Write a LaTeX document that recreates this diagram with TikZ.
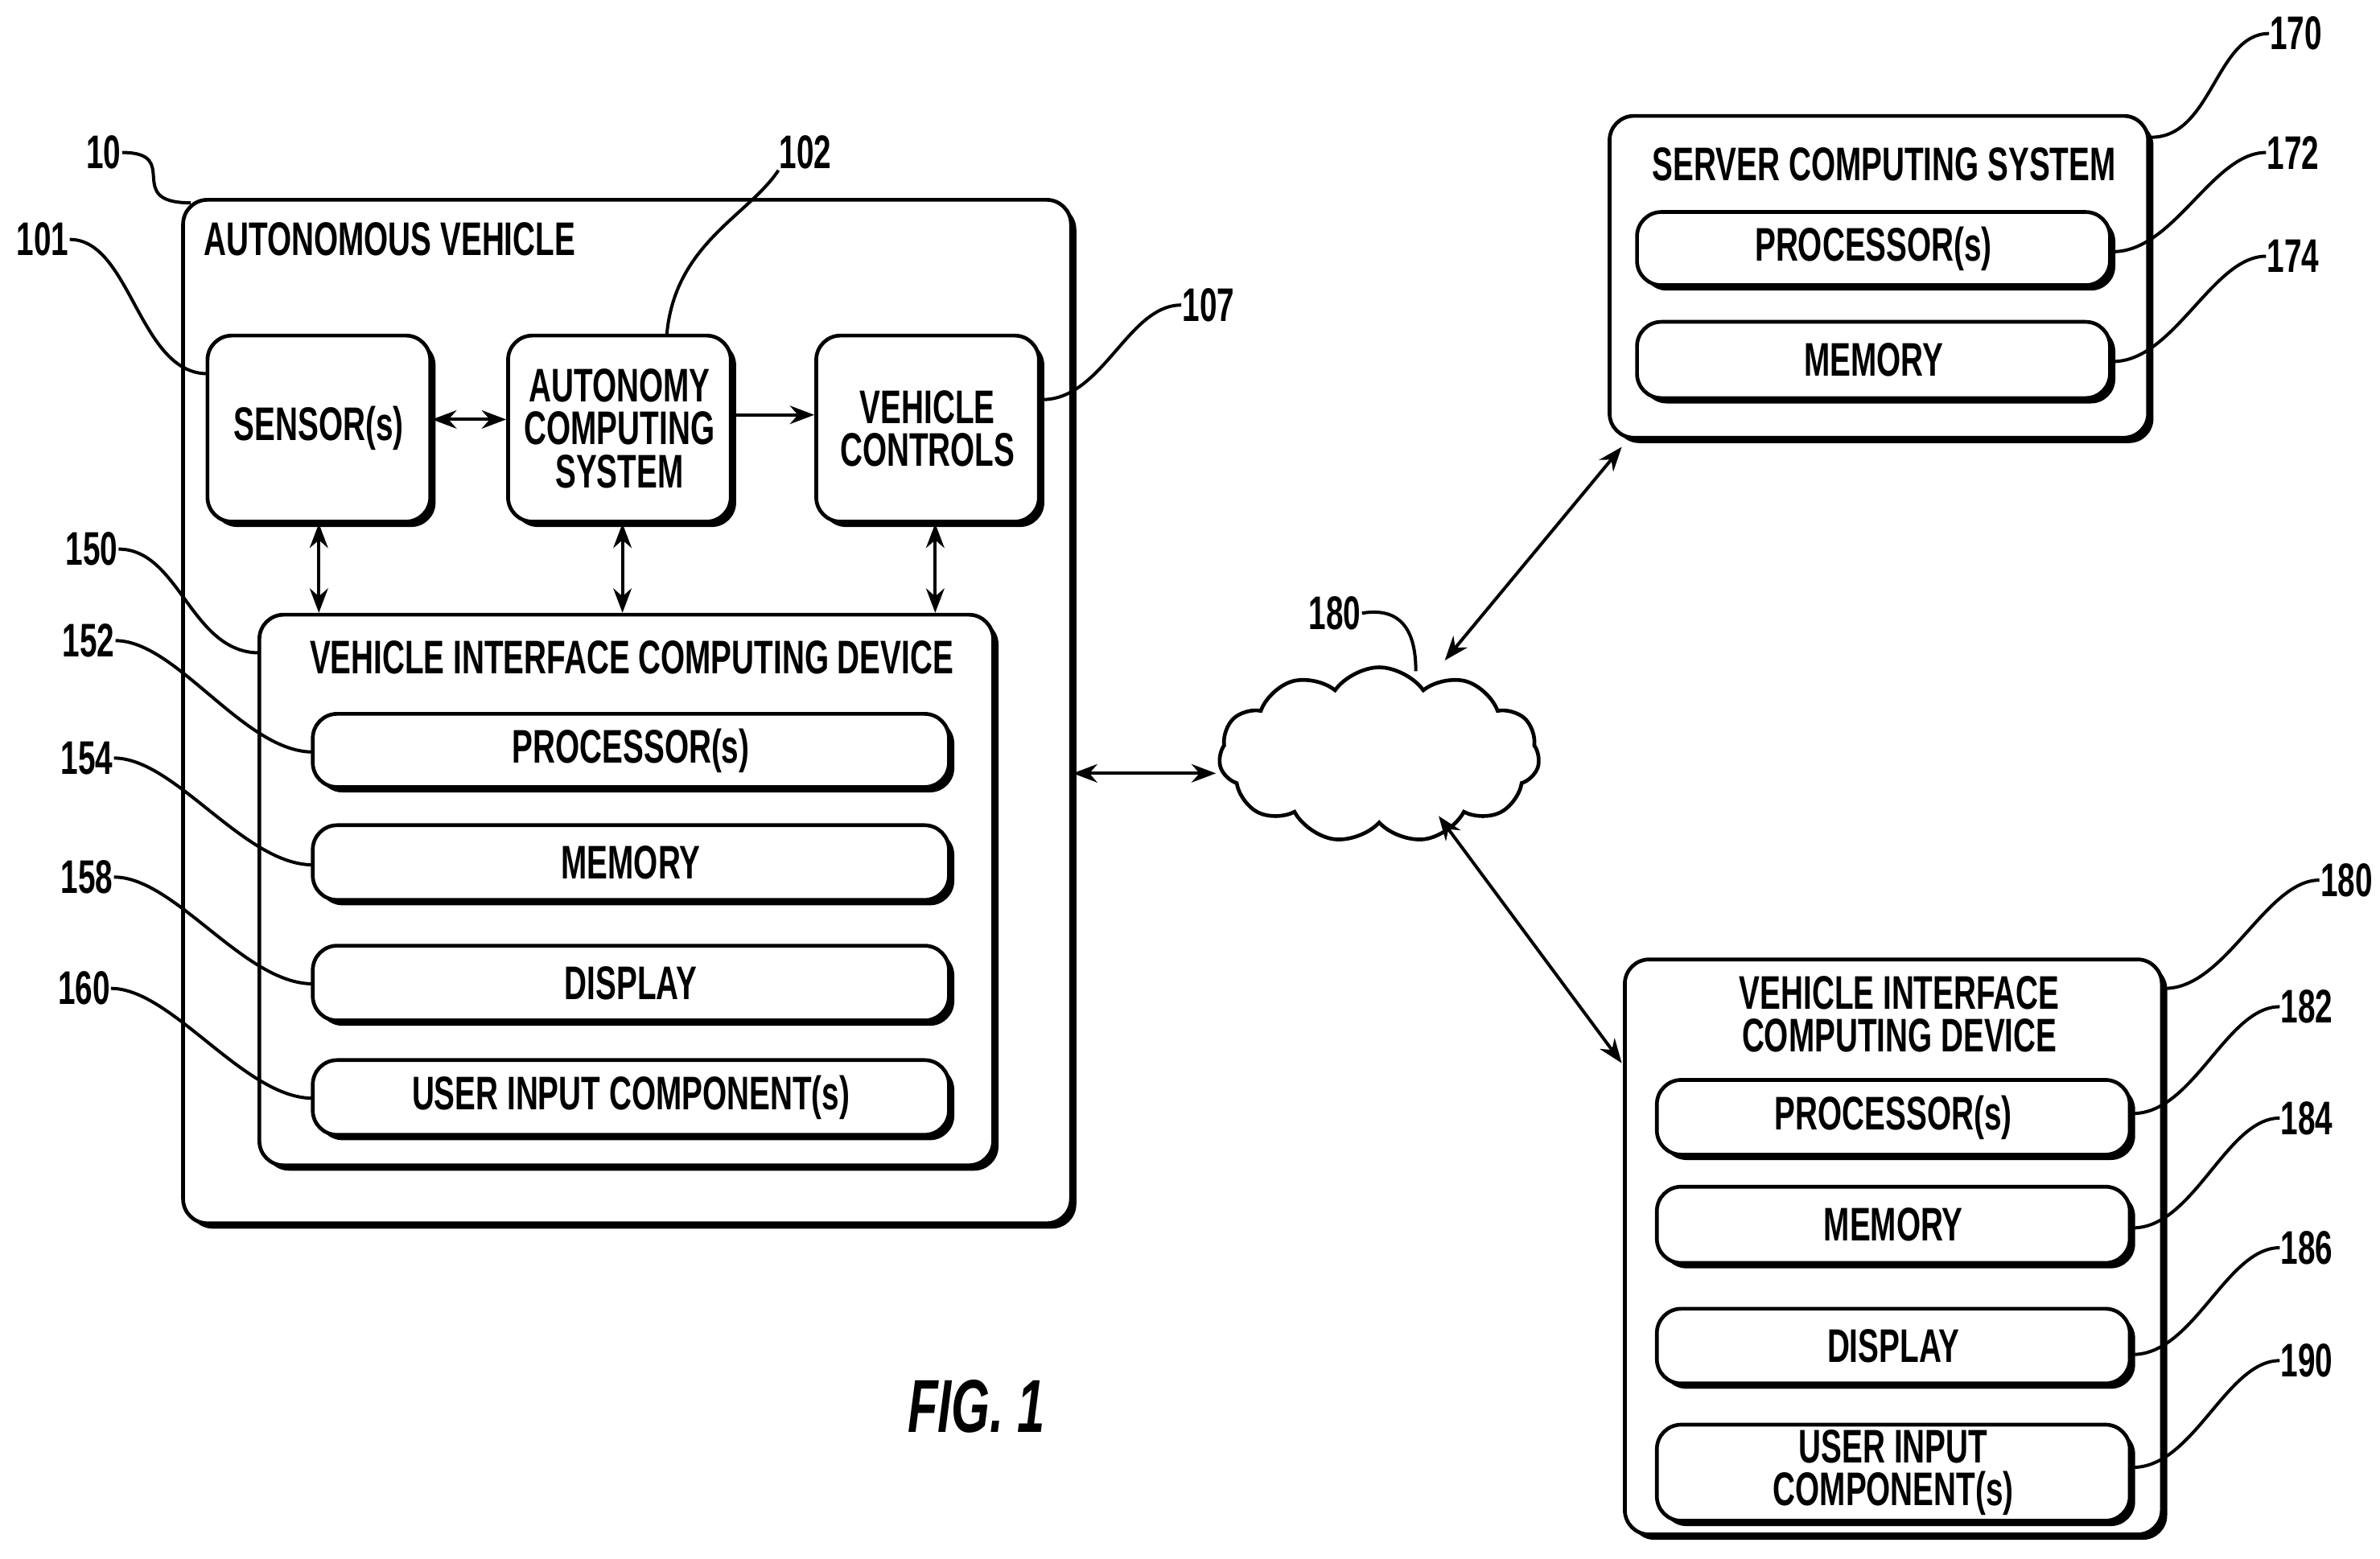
\documentclass[tikz,border=0pt]{standalone}
\usepackage{fontspec}
\setmainfont{Liberation Sans}[FakeStretch=0.66]
\usetikzlibrary{shadows,fit,shapes.symbols,arrows.meta,calc}
\begin{document}
\fontsize{8.8}{10}\selectfont\bfseries
\begin{tikzpicture}[x=0.1mm,y=-0.1mm,
 box/.style={draw,line width=0.7pt,fill=white,rounded corners=1.6mm,inner sep=0,align=center,
   drop shadow={shadow xshift=0.35mm,shadow yshift=-0.35mm,fill=black,opacity=1}},
 lbl/.style={inner sep=0},
 ld/.style={line width=0.6pt},
 ar/.style={line width=0.6pt,{Stealth[length=1.6mm,width=1.2mm]}-{Stealth[length=1.6mm,width=1.2mm]}},
 ar1/.style={line width=0.6pt,-{Stealth[length=1.6mm,width=1.2mm]}}]
\useasboundingbox (0,0) rectangle (1560,1022);
\newcommand{\bx}[6]{\node[box,fit={(#2,#3)(#4,#5)}] (#1) {}; \node[lbl,align=center] at (#1.center) {#6};}
% autonomous vehicle
\bx{av}{120}{131}{702}{802}{}
\node[lbl,anchor=west] (avt) at (133,157) {AUTONOMOUS VEHICLE};
\bx{sen}{136}{220}{282}{342}{SENSOR(s)}
\bx{aut}{333}{220}{479}{342}{AUTONOMY\\[-2pt]COMPUTING\\[-2pt]SYSTEM}
\bx{vc}{535}{220}{681}{342}{VEHICLE\\[-2pt]CONTROLS}
\bx{vicd}{170}{403}{651}{764}{}
\node[lbl] (vicdt) at (414,431) {VEHICLE INTERFACE COMPUTING DEVICE};
\bx{p1}{205}{468}{622}{516}{PROCESSOR(s)}
\bx{m1}{205}{541}{622}{590}{MEMORY}
\bx{d1}{205}{620}{622}{669}{DISPLAY}
\bx{u1}{205}{695}{622}{744}{USER INPUT COMPONENT(s)}
% server
\bx{srv}{1055}{76}{1408}{287}{}
\node[lbl] (srvt) at (1235,108) {SERVER COMPUTING SYSTEM};
\bx{p2}{1073}{139}{1383}{187}{PROCESSOR(s)}
\bx{m2}{1073}{211}{1383}{261}{MEMORY}
% right vicd
\bx{rv}{1065}{629}{1417}{1006}{}
\node[lbl,align=center] (rvt) at (1245,665) {VEHICLE INTERFACE\\[-2pt]COMPUTING DEVICE};
\bx{p3}{1086}{708}{1396}{757}{PROCESSOR(s)}
\bx{m3}{1086}{778}{1396}{828}{MEMORY}
\bx{d3}{1086}{858}{1396}{907}{DISPLAY}
\bx{u3}{1086}{934}{1396}{997}{USER INPUT\\[-2pt]COMPONENT(s)}
% cloud
\node[cloud,draw,line width=0.7pt,cloud puffs=11,cloud puff arc=110,minimum width=21mm,minimum height=11.5mm,aspect=1.8] (cl) at (904,495) {};
\node[lbl,font=\fontsize{14}{16}\selectfont\bfseries\itshape] (fig) at (640,922) {FIG. 1};
% coordinates
\coordinate (c1) at (288,275);
\draw[ar] (sen.east |- c1) -- (aut.west |- c1);
\draw[ar1] (aut.east |- 0,272) -- (vc.west |- 0,272);
\draw[ar] (sen.south -| 209,0) -- (vicd.north -| 209,0);
\draw[ar] (aut.south -| 408,0) -- (vicd.north -| 408,0);
\draw[ar] (vc.south -| 613,0) -- (vicd.north -| 613,0);
\coordinate (k1) at (797,507); \coordinate (k2) at (947,433); \coordinate (k3) at (943,535);
\coordinate (s1) at (1063,293); \coordinate (r1) at (1063,697);
\draw[ar] (av.east |- k1) -- (k1);
\draw[ar] (k2) -- (s1);
\draw[ar] (k3) -- (r1);
% reference labels
\newcommand{\rl}[4]{\node[lbl] (#1) at (#2) {#3}; \coordinate (#1e) at (#4);}
\rl{n10}{68,100}{10}{125,133}
\rl{n101}{28,157}{101}{136,245}
\rl{n102}{528,100}{102}{437,220}
\rl{n107}{792,200}{107}{683,262}
\rl{n150}{60,360}{150}{170,428}
\rl{n152}{58,420}{152}{205,493}
\rl{n154}{57,497}{154}{205,567}
\rl{n158}{57,575}{158}{205,645}
\rl{n160}{55,648}{160}{205,720}
\rl{n170}{1505,22}{170}{1410,90}
\rl{n172}{1503,100}{172}{1385,165}
\rl{n174}{1503,168}{174}{1385,237}
\rl{n180}{875,402}{180}{928,440}
\rl{n180b}{1538,577}{180}{1419,648}
\rl{n182}{1512,660}{182}{1398,730}
\rl{n184}{1512,733}{184}{1398,805}
\rl{n186}{1512,818}{186}{1398,888}
\rl{n190}{1512,892}{190}{1398,962}
\foreach \n in {n10,n101,n150,n152,n154,n158,n160}
 \draw[ld] (\n.east) .. controls ++(40,0) and ($(\n e)+(-45,0)$) .. (\n e);
\draw[ld] (n102.south west) .. controls ++(-20,30) and ($(n102e)+(5,-60)$) .. (n102e);
\draw[ld] (n180.east) .. controls ++(30,-5) and ($(n180e)+(0,-20)$) .. (n180e);
\foreach \n in {n107,n170,n172,n174,n180b,n182,n184,n186,n190}
 \draw[ld] (\n.west) .. controls ++(-35,0) and ($(\n e)+(40,0)$) .. (\n e);
\end{tikzpicture}
\end{document}
